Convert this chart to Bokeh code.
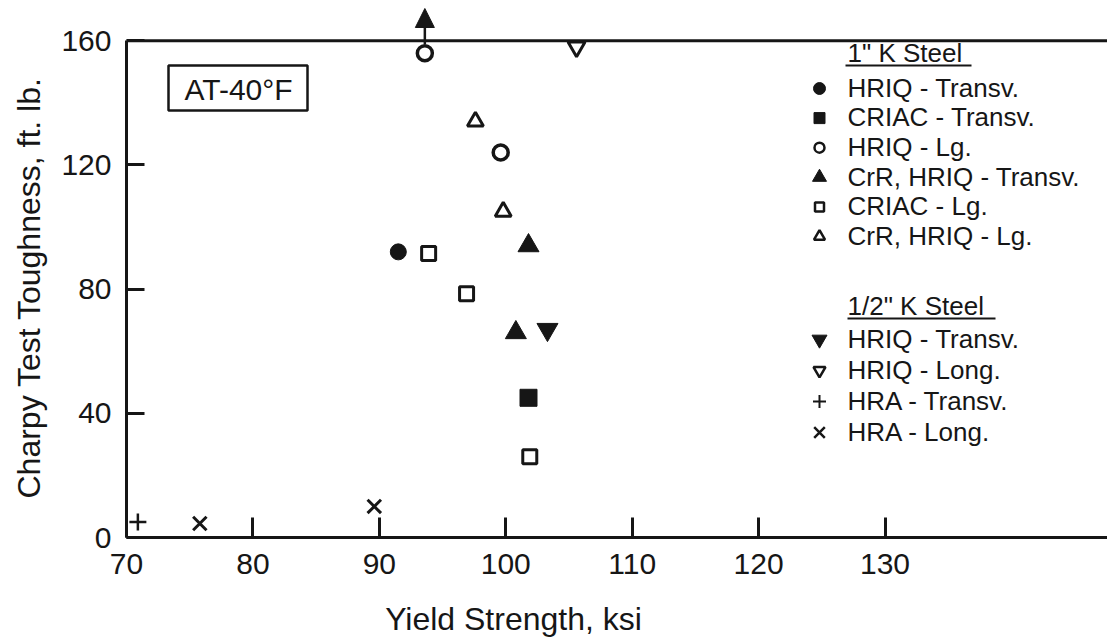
import math

from bokeh.plotting import figure
from bokeh.models import (Range1d, FixedTicker, Span, Label, BoxAnnotation, Arrow, NormalHead,
                          Title, LinearAxis)
from bokeh.embed import file_html
from bokeh.resources import INLINE

# ---------------------------------------------------------------------------
# Charpy toughness at -40 F versus yield strength
# ---------------------------------------------------------------------------

# 1" K steel
k1_hriq_tr_x = [91.5]
k1_hriq_tr_y = [92]
k1_criac_tr_x = [101.8]
k1_criac_tr_y = [45]
k1_hriq_lg_x = [93.6, 99.6]
k1_hriq_lg_y = [156, 124]
k1_crr_tr_x = [101.8, 100.8]
k1_crr_tr_y = [94, 66]
k1_criac_lg_x = [93.9, 96.9, 101.9]
k1_criac_lg_y = [91.5, 78.5, 26]
k1_crr_lg_x = [97.6, 99.8]
k1_crr_lg_y = [134, 105]

# 1/2" K steel
k2_hriq_tr_x = [103.3]
k2_hriq_tr_y = [67]
k2_hriq_lo_x = [105.6]
k2_hriq_lo_y = [158]
k2_hra_tr_x = [70.9]
k2_hra_tr_y = [5]
k2_hra_lo_x = [75.8, 89.6]
k2_hra_lo_y = [4.5, 10]

x_ticks = [70, 80, 90, 100, 110, 120, 130]
y_ticks = [0, 40, 80, 120, 160]

x_title = "Yield Strength, ksi"
y_title = "Charpy Test Toughness, ft. lb."
temp_tag = "AT-40°F"

group_1_title = '1" K Steel'
group_2_title = '1/2" K Steel'
series_1 = [
    ("HRIQ - Transv.", k1_hriq_tr_x, k1_hriq_tr_y, "circle", True),
    ("CRIAC - Transv.", k1_criac_tr_x, k1_criac_tr_y, "square", True),
    ("HRIQ - Lg.", k1_hriq_lg_x, k1_hriq_lg_y, "circle", False),
    ("CrR, HRIQ - Transv.", k1_crr_tr_x, k1_crr_tr_y, "triangle", True),
    ("CRIAC - Lg.", k1_criac_lg_x, k1_criac_lg_y, "square", False),
    ("CrR, HRIQ - Lg.", k1_crr_lg_x, k1_crr_lg_y, "triangle", False),
]
series_2 = [
    ("HRIQ - Transv.", k2_hriq_tr_x, k2_hriq_tr_y, "inverted_triangle", True),
    ("HRIQ - Long.", k2_hriq_lo_x, k2_hriq_lo_y, "inverted_triangle", False),
    ("HRA - Transv.", k2_hra_tr_x, k2_hra_tr_y, "cross", None),
    ("HRA - Long.", k2_hra_lo_x, k2_hra_lo_y, "x", None),
]

# ---------------------------------------------------------------------------
# Page geometry and styling
# ---------------------------------------------------------------------------
W, H = 1107, 639
LEFT, RIGHT, TOP, BOTTOM = 126, 0, 3, 102
X0, X1 = 70, 147.6
Y0, Y1 = 0, 172
FONT = "Liberation Sans"
INK = "#161616"


def dx(px):
    """Canvas x pixel -> data x."""
    return X0 + (px - LEFT) * (X1 - X0) / (W - LEFT - RIGHT)


def dy(py):
    """Canvas y pixel (from top) -> data y."""
    return Y0 + (H - BOTTOM - py) * (Y1 - Y0) / (H - TOP - BOTTOM)


def text_y(baseline_px, font_px):
    """Label anchor for a wanted baseline (pixels from top)."""
    return dy(baseline_px - 0.37 * font_px)


# marker key -> (size, line width) on the plot and in the key
PLOT_STYLE = {
    ("circle", True): (16, 1), ("circle", False): (15, 3.5),
    ("square", True): (17, 1), ("square", False): (14, 3),
    ("triangle", True): (21, 1), ("triangle", False): (16, 3),
    ("inverted_triangle", True): (21, 1), ("inverted_triangle", False): (17, 3),
    ("cross", None): (17, 2.5), ("x", None): (19, 3),
}
KEY_STYLE = {
    ("circle", True): (12, 1), ("circle", False): (10, 2.5),
    ("square", True): (11, 1), ("square", False): (9, 2.5),
    ("triangle", True): (14, 1), ("triangle", False): (11, 2.5),
    ("inverted_triangle", True): (15, 1), ("inverted_triangle", False): (12, 2.5),
    ("cross", None): (13, 2), ("x", None): (15, 2.5),
}

p = figure(
    width=W, height=H,
    x_range=Range1d(X0, X1), y_range=Range1d(Y0, Y1),
    output_backend="svg", toolbar_location=None,
    min_border=0,
)
p.min_border_left = LEFT
p.min_border_right = RIGHT
p.min_border_top = TOP
p.min_border_bottom = BOTTOM
p.outline_line_color = None
p.grid.visible = False
p.background_fill_color = "white"
p.border_fill_color = "white"

# axes: ticks point into the plot
for ax in (p.xaxis[0], p.yaxis[0]):
    ax.axis_line_width = 3
    ax.axis_line_color = INK
    ax.major_tick_line_width = 3
    ax.major_tick_line_color = INK
    ax.major_tick_out = 0
    ax.minor_tick_line_color = None
    ax.major_label_text_font = FONT
    ax.major_label_text_font_size = "30px"
    ax.major_label_text_color = INK

p.xaxis[0].ticker = FixedTicker(ticks=x_ticks)
p.xaxis[0].major_tick_in = 20
p.xaxis[0].major_label_standoff = 16
p.yaxis[0].ticker = FixedTicker(ticks=y_ticks)
p.yaxis[0].bounds = (0, 160)
p.yaxis[0].major_tick_in = 18
p.yaxis[0].major_label_standoff = 15

# x title: a bare axis row below the scale, its single label centred under the data
X_TITLE_AT = dx(513)
title_axis = LinearAxis(
    ticker=FixedTicker(ticks=[X_TITLE_AT]),
    major_label_overrides={X_TITLE_AT: x_title},
    axis_line_color=None, major_tick_line_color=None, minor_tick_line_color=None,
    major_tick_in=0, major_tick_out=0, major_label_standoff=24,
    major_label_text_font=FONT, major_label_text_font_size="32px",
    major_label_text_color=INK,
)
p.add_layout(title_axis, "below")

# y title
p.add_layout(Title(text=y_title, align="left", offset=39, vertical_align="top",
                   standoff=19, text_font=FONT, text_font_size="32px",
                   text_font_style="normal", text_color=INK), "left")

# top frame line at 160 ft. lb.
p.add_layout(Span(location=160, dimension="width", line_color=INK, line_width=3))

# test temperature tag
p.add_layout(BoxAnnotation(left=dx(168), right=dx(307), top=dy(65), bottom=dy(110),
                           fill_color=None, fill_alpha=0,
                           line_color=INK, line_alpha=1, line_width=2.5))
p.add_layout(Label(x=dx(238), y=text_y(100, 30), text=temp_tag,
                   text_font=FONT, text_font_size="30px", text_color=INK,
                   text_align="center", text_baseline="alphabetic"))


def draw_marker(xs, ys, marker, filled, size, lw):
    if filled is None:
        p.scatter(xs, ys, marker=marker, size=size, line_color=INK, line_width=lw)
    elif filled:
        p.scatter(xs, ys, marker=marker, size=size, fill_color=INK, line_color=INK, line_width=lw)
    else:
        p.scatter(xs, ys, marker=marker, size=size, fill_color="white", line_color=INK, line_width=lw)


# data points
for label, xs, ys, marker, filled in series_1 + series_2:
    size, lw = PLOT_STYLE[(marker, filled)]
    draw_marker(xs, ys, marker, filled, size, lw)

# value off the top of the scale
p.add_layout(Arrow(end=NormalHead(size=19, fill_color=INK, line_color=INK, line_width=1),
                   x_start=k1_hriq_lg_x[0], y_start=k1_hriq_lg_y[0] + 2.9,
                   x_end=k1_hriq_lg_x[0], y_end=dy(8),
                   line_color=INK, line_width=2.5))

# key
KEY_MARK_X = 819
KEY_TEXT_X = 847
KEY_FONT = 26
groups = [
    (group_1_title, series_1, 62, 845, 971, 97, 29.6),
    (group_2_title, series_2, 315, 847, 995, 348, 31.0),
]
for title, entries, title_base, ul_x0, ul_x1, row0, step in groups:
    p.add_layout(Label(x=dx(KEY_TEXT_X), y=text_y(title_base, KEY_FONT), text=title,
                       text_font=FONT, text_font_size=f"{KEY_FONT}px", text_color=INK,
                       text_align="left", text_baseline="alphabetic"))
    p.segment(x0=[dx(ul_x0)], y0=[dy(title_base + 3)], x1=[dx(ul_x1)], y1=[dy(title_base + 3)],
              line_color=INK, line_width=2)
    for i, (label, xs, ys, marker, filled) in enumerate(entries):
        base = row0 + step * i
        size, lw = KEY_STYLE[(marker, filled)]
        draw_marker([dx(KEY_MARK_X)], [dy(base - 9)], marker, filled, size, lw)
        p.add_layout(Label(x=dx(KEY_TEXT_X), y=text_y(base, KEY_FONT), text=label,
                           text_font=FONT, text_font_size=f"{KEY_FONT}px", text_color=INK,
                           text_align="left", text_baseline="alphabetic"))

open("out.html", "w").write(file_html(p, INLINE))
